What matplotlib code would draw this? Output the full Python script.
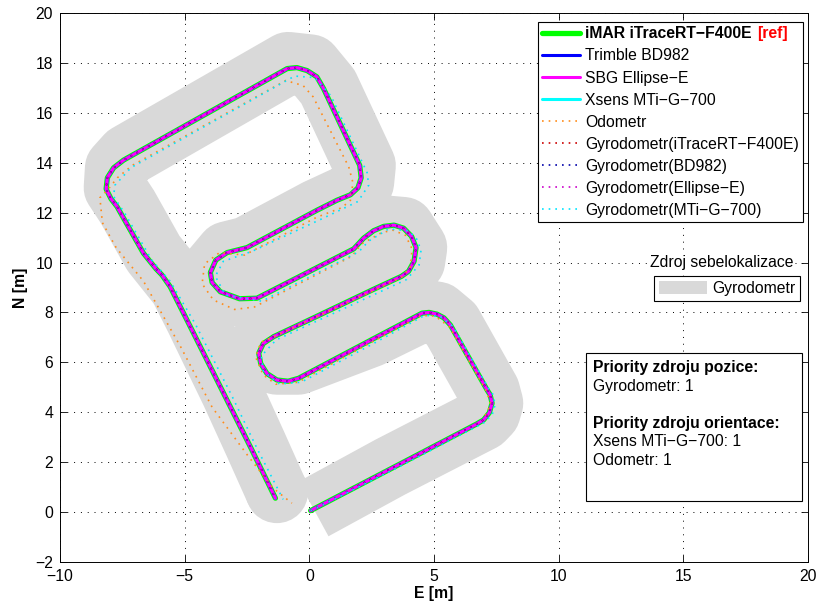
import matplotlib
matplotlib.use("Agg")
import matplotlib.pyplot as plt
from matplotlib.patches import Patch, Circle, Rectangle

plt.rcParams['font.family'] = ['Liberation Sans', 'DejaVu Sans']
plt.rcParams['axes.unicode_minus'] = True

# --- reference trajectory (iMAR iTraceRT-F400E), also GNSS/INS solutions ---
ref_e = [0.05, 3.25, 6.70, 6.99, 7.22, 7.33, 7.25, 7.13, 5.66, 5.40, 5.12, 4.80,
         4.52, 2.45, -0.43, -0.85, -1.30, -1.70, -1.95, -2.03, -1.85, -1.43,
         0.04, 2.58, 3.70, 3.98, 4.20, 4.28, 4.10, 3.78, 3.40, 2.98, 2.58, 2.18,
         1.78, -2.10, -2.80, -3.57, -3.90, -3.97, -3.75, -3.30, -2.50, 0.31,
         1.11, 1.65, 1.95, 2.08, 2.02, 0.57, 0.30, -0.09, -0.50, -0.89, -7.45,
         -7.85, -8.10, -8.15, -7.95, -7.71, -6.65, -6.15, -5.91, -5.58, -4.91,
         -3.44, -2.37, -1.36]
ref_n = [0.05, 1.72, 3.52, 3.69, 3.98, 4.36, 4.70, 4.89, 7.49, 7.78, 7.93, 8.00,
         7.97, 6.88, 5.36, 5.24, 5.29, 5.55, 5.95, 6.36, 6.75, 7.03,
         7.72, 8.93, 9.45, 9.65, 10.05, 10.60, 11.05, 11.38, 11.50, 11.45, 11.28, 10.98,
         10.55, 8.57, 8.55, 8.83, 9.20, 9.60, 10.10, 10.40, 10.60, 12.10,
         12.50, 12.72, 13.00, 13.40, 13.90, 16.98, 17.45, 17.70, 17.82, 17.78, 14.11,
         13.80, 13.40, 12.95, 12.55, 12.24, 10.37, 9.75, 9.50, 9.03, 7.70,
         4.76, 2.62, 0.55]

# --- odometry only ---
odo_e = [0.05, 3.25, 6.95, 7.28, 7.10, 5.62, 5.05, 4.50, 2.45, -0.45, -1.35, -1.85,
         -2.15, -1.95, -1.48, 2.58, 3.68, 4.05, 4.12, 3.85, 3.35, 2.90, 2.10, 1.70,
         -2.20, -3.00, -3.85, -4.30, -4.20, -3.60, -2.60, 0.30, 1.30, 1.65, 1.75,
         1.58, 0.15, -0.25, -0.95, -7.10, -7.70, -8.10, -8.40, -8.30, -7.75, -6.65,
         -5.15, -3.90, -2.50, -1.45, -0.70]
odo_n = [0.05, 1.70, 3.66, 4.30, 4.85, 7.42, 7.85, 7.88, 6.78, 5.20, 5.12, 5.50,
         6.20, 6.80, 7.00, 8.88, 9.40, 9.80, 10.55, 11.10, 11.30, 11.20, 10.75, 10.25,
         8.22, 8.12, 8.50, 9.15, 9.95, 10.40, 10.30, 11.82, 12.20, 12.50, 13.20,
         13.84, 16.65, 17.10, 17.30, 13.90, 13.40, 12.90, 12.60, 11.60, 10.60, 9.25,
         6.60, 4.20, 2.30, 0.95, 0.35]

# --- gyrodometry with Xsens MTi-G-700 heading ---
mti_e = [0.05, 3.27, 7.05, 7.34, 7.45, 7.36, 7.25, 5.78, 5.24, 4.62, 2.55, -0.33,
         -1.20, -1.85, -1.93, -1.33, 2.78, 3.90, 4.40, 4.48, 4.30, 3.98, 3.18, 2.38,
         1.98, -1.90, -3.37, -3.77, -3.45, -2.30, 0.60, 1.95, 2.38, 2.32, 0.87,
         0.21, -0.59, -7.15, -7.80, -7.85, -7.38, -6.32, -5.58, -4.58, -3.11, -2.10,
         -1.05]
mti_n = [0.05, 1.64, 3.60, 3.92, 4.30, 4.72, 4.85, 7.42, 7.85, 7.88, 6.74, 5.20,
         5.13, 5.65, 6.25, 6.90, 8.80, 9.32, 9.90, 10.50, 10.95, 11.27, 11.35, 10.86,
         10.43, 8.45, 8.70, 9.45, 10.05, 10.45, 11.80, 12.45, 13.10, 13.60, 16.68,
         17.42, 17.48, 13.81, 13.10, 12.65, 11.94, 10.10, 9.25, 7.55, 4.66, 2.55,
         0.50]

# --- centreline of the gyrodometry self-localisation corridor ---
band_e = [0.17, 3.25, 6.95, 7.22, 7.33, 7.20, 5.70, 5.15, 4.55, 2.45, -0.45, -1.30,
          -1.85, -1.90, -1.43, 3.70, 4.20, 4.28, 3.78, 2.98, 2.18, 1.78, -2.10,
          -3.57, -3.97, -3.30, -2.50, 0.31, 1.65, 2.15, 2.22, 0.75, 0.05, -0.85,
          -7.30, -7.75, -7.80, -7.30, -6.25, -5.18, -4.51, -3.09, -2.15, -1.30]
band_n = [0.12, 1.80, 3.70, 3.98, 4.36, 4.85, 7.52, 7.98, 8.08, 7.05, 5.95, 5.95,
          6.30, 6.80, 7.10, 9.45, 10.05, 10.60, 11.38, 11.45, 10.98, 10.55, 8.57,
          8.83, 9.60, 10.40, 10.60, 12.10, 12.72, 13.20, 13.90, 17.05, 17.90, 18.00,
          14.30, 13.80, 13.00, 12.24, 10.37, 9.03, 7.70, 4.76, 2.70, 0.80]
band_width_m = 2.5

legend_labels = ["iMAR iTraceRT\u2212F400E", "Trimble BD982", "SBG Ellipse\u2212E",
                 "Xsens MTi\u2212G\u2212700", "Odometr", "Gyrodometr(iTraceRT\u2212F400E)",
                 "Gyrodometr(BD982)", "Gyrodometr(Ellipse\u2212E)", "Gyrodometr(MTi\u2212G\u2212700)"]
info_lines = [("Priority zdroju pozice:", True), ("Gyrodometr: 1", False), ("", False),
              ("Priority zdroju orientace:", True), ("Xsens MTi\u2212G\u2212700: 1", False),
              ("Odometr: 1", False)]

W, H, DPI = 818, 606, 100
FS = 11.3
GRAY = '#d9d9d9'

fig = plt.figure(figsize=(W / DPI, H / DPI), dpi=DPI)
ax = fig.add_axes([60 / W, 44 / H, 748 / W, 549 / H])
ax.set_xlim(-10, 20)
ax.set_ylim(-2, 20)
ax.set_aspect('equal', adjustable='box')
ax.set_xticks(range(-10, 21, 5))
ax.set_yticks(range(-2, 21, 2))
ax.tick_params(direction='in', length=5, width=0.6, top=True, right=True,
               labelsize=FS, pad=5)
ax.grid(True, color='black', linestyle=(0, (1, 6)), linewidth=0.7)
ax.set_axisbelow(True)
for s in ax.spines.values():
    s.set_linewidth(0.7)
ax.set_xlabel('E [m]', fontweight='bold', fontsize=FS, labelpad=2)
ax.set_ylabel('N [m]', fontweight='bold', fontsize=FS, labelpad=5)

# corridor width converted from metres to points
ax.apply_aspect()
p0 = ax.transData.transform((0, 0))
p1 = ax.transData.transform((1, 0))
lw_band = band_width_m * (p1[0] - p0[0]) * 72 / DPI
ax.plot(band_e, band_n, color=GRAY, lw=lw_band, solid_capstyle='butt',
        solid_joinstyle='round', zorder=1)
ax.add_patch(Circle((band_e[-1], band_n[-1]), band_width_m / 2, facecolor=GRAY,
                    edgecolor='none', zorder=1))

kw = dict(solid_joinstyle='round', solid_capstyle='round')
h_ref, = ax.plot(ref_e, ref_n, color='#00ff00', lw=3.8, zorder=3, **kw)
h_xs, = ax.plot(ref_e, ref_n, color='#00ffff', lw=2.2, zorder=3.1, **kw)
h_tr, = ax.plot(ref_e, ref_n, color='#0000ff', lw=2.2, zorder=3.2, **kw)
h_sbg, = ax.plot(ref_e, ref_n, color='#ff00ff', lw=2.2, zorder=3.3, **kw)

dot = (0, (1, 3))
h_odo, = ax.plot(odo_e, odo_n, color='#ff8c1a', lw=1.2, ls=dot, zorder=4)
h_gi, = ax.plot(ref_e, ref_n, color='#cc0000', lw=1.2, ls=dot, zorder=4.1)
h_gb, = ax.plot(ref_e, ref_n, color='#0000aa', lw=1.2, ls=dot, zorder=4.2)
h_ge, = ax.plot(ref_e, ref_n, color='#cc00cc', lw=1.2, ls=dot, zorder=4.3)
h_gm, = ax.plot(mti_e, mti_n, color='#00e5ff', lw=1.2, ls=dot, zorder=4.4)

handles = [h_ref, h_tr, h_sbg, h_xs, h_odo, h_gi, h_gb, h_ge, h_gm]
leg1 = ax.legend(handles, legend_labels, loc='upper right',
                 bbox_to_anchor=(803 / W, 1 - 22 / H), bbox_transform=fig.transFigure,
                 fontsize=FS, fancybox=False, edgecolor='black', framealpha=1,
                 borderpad=0.28, labelspacing=0.45, handlelength=2.4,
                 handletextpad=0.32, borderaxespad=0)
leg1.get_frame().set_linewidth(0.8)
leg1.get_texts()[0].set_fontweight('bold')
ax.add_artist(leg1)
ax.annotate('[ref]', xy=(1, 0), xycoords=leg1.get_texts()[0], xytext=(4, 0),
            textcoords='offset points', color='red', fontweight='bold',
            fontsize=FS, ha='left', va='bottom', zorder=10)

leg2 = ax.legend([Patch(facecolor=GRAY, edgecolor='none')], ['Gyrodometr'],
                 loc='upper right', bbox_to_anchor=(800 / W, 1 - 276 / H),
                 bbox_transform=fig.transFigure, fontsize=FS, fancybox=False,
                 edgecolor='black', framealpha=1, borderpad=0.3,
                 handlelength=3.05, handleheight=0.95, handletextpad=0.35,
                 borderaxespad=0)
leg2.get_frame().set_linewidth(0.8)

fig.text(794 / W, 1 - 263 / H, 'Zdroj sebelokalizace', ha='right', va='center',
         fontsize=FS, bbox=dict(facecolor='white', edgecolor='none', pad=1))

fig.add_artist(Rectangle((586 / W, 1 - 501 / H), (802 - 586) / W, (501 - 353) / H,
                         transform=fig.transFigure, facecolor='white',
                         edgecolor='black', lw=0.8, zorder=5))
for i, (txt, bold) in enumerate(info_lines):
    fig.text(593 / W, 1 - (367.7 + 18.5 * i) / H, txt, ha='left', va='center',
             fontsize=FS, fontweight='bold' if bold else 'normal', zorder=6)

fig.savefig('out.png', dpi=DPI)
